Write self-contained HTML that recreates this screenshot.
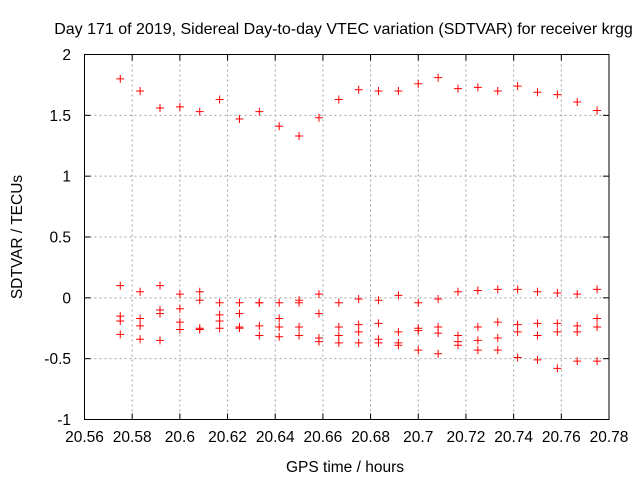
<!DOCTYPE html>
<html><head><meta charset="utf-8"><style>
html,body{margin:0;padding:0;background:#fff}
svg{display:block;font-family:"Liberation Sans",sans-serif}
</style></head><body>
<svg id="chart" width="640" height="480">
<rect width="640" height="480" fill="#fff"/>
<text x="343.5" y="34" font-size="16" text-anchor="middle">Day 171 of 2019, Sidereal Day-to-day VTEC variation (SDTVAR) for receiver krgg</text>
<text x="345" y="472" font-size="15.5" text-anchor="middle">GPS time / hours</text>
<text x="22" y="237" font-size="15.5" text-anchor="middle" transform="rotate(-90 22 237)">SDTVAR / TECUs</text>
<g id="grid"></g>
<g id="axes"></g>
<g id="marks"></g>
</svg>
<script>
const xStart = 20.575;
const xStep = 1/120;
const xTicks = ["20.56","20.58","20.6","20.62","20.64","20.66","20.68","20.7","20.72","20.74","20.76","20.78"];
const yTicks = ["-1","-0.5","0","0.5","1","1.5","2"];
const seriesA = [1.80,1.70,1.56,1.57,1.53,1.63,1.47,1.53,1.41,1.33,1.48,1.63,1.71,1.70,1.70,1.76,1.81,1.72,1.73,1.70,1.74,1.69,1.67,1.61,1.54];
const seriesB = [0.10,0.05,0.10,0.03,0.05,-0.04,-0.04,-0.04,-0.04,-0.02,0.03,-0.04,-0.01,-0.02,0.02,-0.04,-0.01,0.05,0.06,0.07,0.07,0.05,0.04,0.03,0.07];
const seriesC = [-0.15,-0.17,-0.10,-0.09,-0.02,-0.14,-0.13,-0.04,-0.17,-0.04,-0.13,-0.24,-0.22,-0.21,-0.28,-0.25,-0.24,-0.31,-0.24,-0.20,-0.22,-0.21,-0.21,-0.23,-0.17];
const seriesD = [-0.19,-0.23,-0.13,-0.20,-0.26,-0.19,-0.24,-0.23,-0.24,-0.24,-0.33,-0.31,-0.28,-0.34,-0.37,-0.27,-0.29,-0.36,-0.35,-0.33,-0.28,-0.31,-0.28,-0.28,-0.24];
const seriesE = [-0.30,-0.34,-0.35,-0.26,-0.25,-0.25,-0.25,-0.31,-0.32,-0.31,-0.36,-0.37,-0.37,-0.37,-0.39,-0.43,-0.46,-0.39,-0.43,-0.43,-0.49,-0.51,-0.58,-0.52,-0.52];

const L=84.5,R=609,T=54.5,B=419.5,xMin=20.56,xMax=20.78,yMin=-1,yMax=2;
const sx=v=>L+(v-xMin)/(xMax-xMin)*(R-L);
const sy=v=>B-(v-yMin)/(yMax-yMin)*(B-T);
const NS="http://www.w3.org/2000/svg";
function mk(tag,attrs,parent){const e=document.createElementNS(NS,tag);for(const k in attrs)e.setAttribute(k,attrs[k]);parent.appendChild(e);return e;}
const grid=document.getElementById('grid'),axes=document.getElementById('axes'),marks=document.getElementById('marks');
xTicks.forEach((t,i)=>{const x=sx(parseFloat(t));
 if(i>0&&i<xTicks.length-1){const g=mk('line',{x1:x,x2:x,y1:T,y2:B,stroke:'#a0a0a0','stroke-dasharray':'2,3'},grid);
 
 }
 mk('line',{x1:x,x2:x,y1:B,y2:B-6,stroke:'#000'},axes);
 mk('line',{x1:x,x2:x,y1:T,y2:T+6,stroke:'#000'},axes);
 const tx=mk('text',{x:x,y:442,'font-size':'15.5','text-anchor':'middle'},axes);tx.textContent=t;
 
 
});
yTicks.forEach((t,i)=>{const y=sy(parseFloat(t));
 if(i>0&&i<yTicks.length-1){const g=mk('line',{x1:L,x2:R,y1:y,y2:y,stroke:'#a0a0a0','stroke-dasharray':'2,3'},grid);
 
 }
 mk('line',{x1:L,x2:L+6,y1:y,y2:y,stroke:'#000'},axes);
 mk('line',{x1:R,x2:R-6,y1:y,y2:y,stroke:'#000'},axes);
 const tx=mk('text',{x:71,y:y+5.5,'font-size':'15.5','text-anchor':'end'},axes);tx.textContent=t;
 
 
});
const border=mk('rect',{x:L,y:T,width:R-L,height:B-T,fill:'none',stroke:'#000'},axes);


[seriesA,seriesB,seriesC,seriesD,seriesE].forEach(s=>{
 s.forEach((v,i)=>{const x=sx(xStart+i*xStep),y=sy(v);
  const p=mk('path',{d:`M${x-4},${y}H${x+4}M${x},${y-4}V${y+4}`,stroke:'#ff0000','stroke-width':'1',fill:'none'},marks);
  
  
 });
});
</script>
</body></html>
